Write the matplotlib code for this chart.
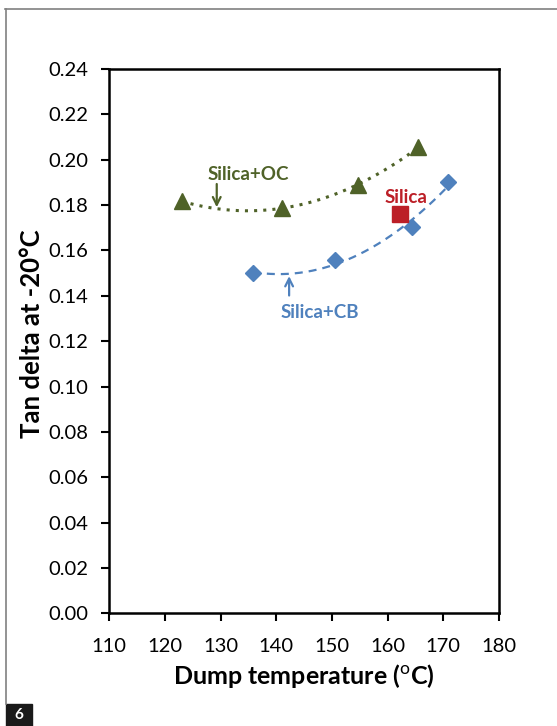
import numpy as np
import matplotlib
matplotlib.use("Agg")
import matplotlib.pyplot as plt
from matplotlib.lines import Line2D
from matplotlib.patches import Rectangle

plt.rcParams['font.family'] = ['Lato', 'DejaVu Sans']
plt.rcParams['mathtext.fontset'] = 'custom'
plt.rcParams['mathtext.rm'] = 'Lato'
plt.rcParams['mathtext.bf'] = 'Lato:bold'

# Data
oc_x = [123.0, 141.1, 154.7, 165.5]
oc_y = [0.1816, 0.1789, 0.1888, 0.2055]
cb_x = [135.8, 150.5, 164.3, 170.9]
cb_y = [0.1499, 0.1558, 0.1702, 0.1902]
silica_x = [162.3]
silica_y = [0.1762]

x_ticks = [110, 120, 130, 140, 150, 160, 170, 180]
y_ticks = [0.00, 0.02, 0.04, 0.06, 0.08, 0.10, 0.12, 0.14, 0.16, 0.18, 0.20, 0.22, 0.24]

GREEN = '#4F6228'
BLUE = '#4F81BD'
RED = '#BC1F27'

fig = plt.figure(figsize=(5.57, 7.26), dpi=100)
ax = fig.add_axes([0.1962, 0.1552, 0.6997, 0.7498])

# Trendlines (2nd-order polynomial fits of the data, as in the source)
for xs, ys, col, ls, lw in [(oc_x, oc_y, GREEN, (0, (1, 2)), 2.2),
                            (cb_x, cb_y, BLUE, (0, (3.6, 2.7)), 1.6)]:
    c = np.polyfit(xs, ys, 2)
    xx = np.linspace(min(xs), max(xs), 200)
    ax.plot(xx, np.polyval(c, xx), color=col, linestyle=ls, linewidth=lw, zorder=2)

ax.plot(oc_x, oc_y, linestyle='none', marker='^', markersize=12, color=GREEN, zorder=3)
ax.plot(cb_x, cb_y, linestyle='none', marker='D', markersize=8.5, color=BLUE, zorder=3)
ax.plot(silica_x, silica_y, linestyle='none', marker='s', markersize=12, color=RED, zorder=3)

ax.set_xlim(110, 180)
ax.set_ylim(0, 0.24)
ax.set_xticks(x_ticks)
ax.set_yticks(y_ticks)
ax.set_xticklabels([str(v) for v in x_ticks])
ax.set_yticklabels([f"{v:.2f}" for v in y_ticks])
ax.tick_params(axis='both', direction='out', length=6, width=1.5, labelsize=14.5, color='black')
ax.tick_params(axis='x', pad=12)
ax.tick_params(axis='y', pad=9.4)

for s in ax.spines.values():
    s.set_linewidth(1.8)
    s.set_color('black')

ax.set_xlabel(r'Dump temperature ($^{\rm o}$C)', fontsize=18, fontweight='bold', labelpad=5)
ax.set_ylabel('Tan delta at -20°C', fontsize=18.5, fontweight='bold')
ax.yaxis.set_label_coords(-0.168, 0.513)

# Annotations
ax.annotate('', xy=(129.3, 0.1778), xytext=(129.3, 0.1905),
            arrowprops=dict(arrowstyle='->', color=GREEN, lw=1.6, mutation_scale=14))
ax.text(134.9, 0.1911, 'Silica+OC', color=GREEN, fontsize=13.5, fontweight='bold', ha='center', va='baseline')
ax.text(163.3, 0.1810, 'Silica', color=RED, fontsize=13.5, fontweight='bold', ha='center', va='baseline')
ax.annotate('', xy=(142.3, 0.1499), xytext=(142.3, 0.1389),
            arrowprops=dict(arrowstyle='->', color=BLUE, lw=1.6, mutation_scale=14))
ax.text(147.85, 0.1300, 'Silica+CB', color=BLUE, fontsize=13.5, fontweight='bold', ha='center', va='baseline')

# Page frame
W, H = 557, 726
fig.add_artist(Line2D([5 / W, 1.0], [1 - 9 / H, 1 - 9 / H], color='#808080', lw=1.2))
fig.add_artist(Line2D([6 / W, 6 / W], [1 - 9 / H, 1 - 704 / H], color='#808080', lw=1.2))
fig.add_artist(Rectangle((6 / W, 0), 26 / W, 22 / H, transform=fig.transFigure, color='#1a1a1a'))
fig.text(19 / W, 11 / H, '6', color='white', fontsize=11, fontweight='bold', ha='center', va='center')

fig.savefig('out.png', dpi=100)
